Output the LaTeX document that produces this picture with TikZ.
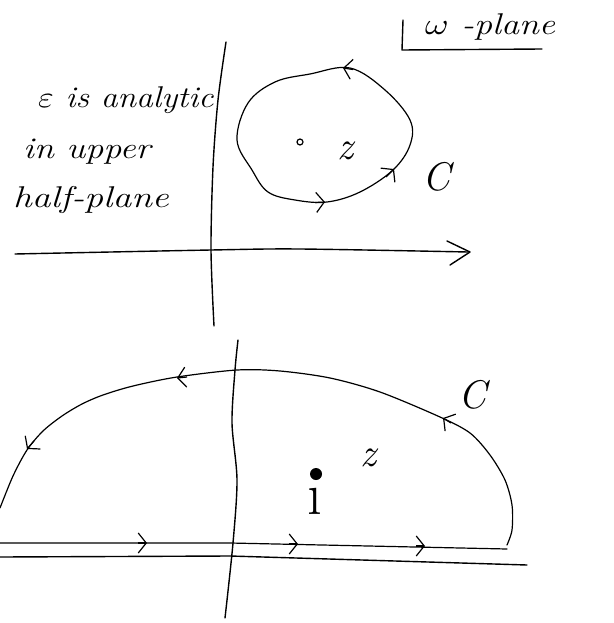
\documentclass[tikz,border=0pt]{standalone}
\usepackage{fontspec}
\usetikzlibrary{arrows.meta}
\newcommand{\bigmath}[1]{{\normalsize\scalebox{3}{$#1$}}}
\begin{document}
\begin{tikzpicture}[x=1pt,y=-1pt,
  ax/.style={line width=1.4pt, line cap=round, line join=round},
  ct/.style={line width=1.2pt, line cap=round, line join=round},
  barb/.style={line width=1.2pt, -{Straight Barb[length=8pt,width=20pt]}},
  bigbarb/.style={line width=1.4pt, line cap=round, line join=round},
  lbl/.style={font=\fontsize{30}{36}\selectfont\itshape, inner sep=0pt},
  big/.style={font=\fontsize{40}{44}\selectfont\itshape, inner sep=0pt},
]
\useasboundingbox (0,0) rectangle (613,623);

% ---------- top: omega-plane ----------
\node[lbl, anchor=base west] (wplane) at (425,35) {\scalebox{1.2}[1]{\bigmath{\omega}\fontsize{30}{36}\selectfont\itshape\ -plane}};
\coordinate (L1) at (403,20);
\coordinate (L2) at (402,50);
\coordinate (L3) at (542,49);
\draw[ax] (L1) -- (L2) -- (L3);

\node[lbl, anchor=base west] (t1) at (38,107) {\scalebox{1.12}[1]{\bigmath{\varepsilon}\fontsize{30}{36}\selectfont\itshape\ is analytic}};
\node[lbl, anchor=base west] (t2) at (23,158) {\scalebox{1.2}[1]{in upper}};
\node[lbl, anchor=base west] (t3) at (13,207) {\scalebox{1.25}[1]{half-plane}};

% axes
\draw[ax] plot[smooth] coordinates {(226,42) (218,100) (213,167) (211,250) (214,326)};
\draw[ax] plot[smooth] coordinates {(15,254) (211,250) (300,249) (468,252)};
\coordinate (A1) at (447,241);
\coordinate (A2) at (470,252);
\coordinate (A3) at (450,265);
\draw[bigbarb] (A1) -- (A2) -- (A3);

% closed contour C
\draw[ct] plot[smooth cycle, tension=0.6] coordinates {(327,202) (360,192) (393,170) (410,145) (410,120) (385,90) (350,68) (310,74) (275,82) (248,103) (237,140) (252,170) (268,192) (295,200)};
\draw[barb] (315,202.5) -- (325,202);
\draw[barb] (386,177) -- (394,169);
\draw[barb] (353,69.5) -- (343,68);

\node[draw, circle, inner sep=0pt, minimum size=6pt, line width=1.2pt] (z0) at (300,142) {};
\node[big, anchor=base] (zt) at (345,159) {z};
\node[big, anchor=base] (Ct) at (436,190) {C};

% ---------- bottom ----------
\draw[ax] plot[smooth] coordinates {(238,340) (235,370) (232,423) (237,480) (233,543) (225,618)};
\draw[ct] plot[smooth, tension=0.5] coordinates {(0,508) (13,476) (27,450) (43,431) (62,416) (82,404) (103,395) (133,386) (177,377) (237,370) (280,371) (330,378) (380,392) (440,417) (470,433) (490,455) (505,480) (512,505) (512,530) (507,545)};
\draw[ct] (0,543) -- (230,543) -- (507,549);
\draw[ax] (0,557) -- (230,556) -- (527,565);

\draw[barb] (187,377) -- (177,378);
\draw[barb] (34,441) -- (27,449);
\draw[barb] (451,423) -- (443,418);
\draw[barb] (138,543) -- (147,543);
\draw[barb] (289,544) -- (298,544);
\draw[barb] (416,546) -- (425,546);

\node[big, anchor=base] (Cb) at (472,408) {C};
\node[big, anchor=base] (zb) at (368,466) {z};
\node[circle, fill, inner sep=0pt, minimum size=12pt] (pt) at (316,474) {};
\node[font=\fontsize{60}{64}\selectfont, inner sep=0pt, anchor=base] (ib) at (315,514) {ı};
\end{tikzpicture}
\end{document}
